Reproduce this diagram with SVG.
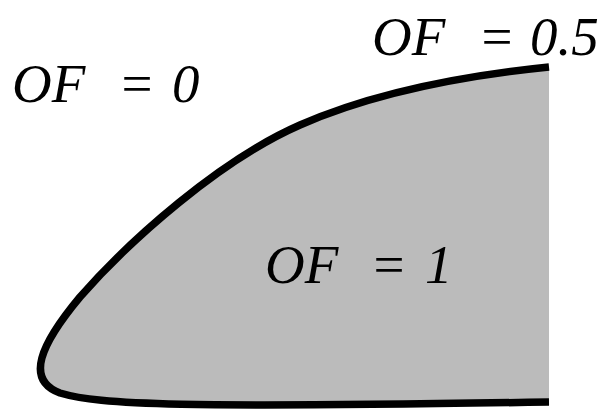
<svg xmlns="http://www.w3.org/2000/svg" width="614" height="411" viewBox="0 0 614 411">
<style>
.edge{fill:none;stroke:#000;stroke-width:7.5;stroke-linecap:butt;stroke-linejoin:round}
.lbl{font-family:'Liberation Serif','DejaVu Serif',serif;font-style:italic;font-size:55px;fill:#000}
</style>
<rect width="614" height="411" fill="#fff"/>
<g id="region">
<path d="M549,67 C470,75 380,90 300,125 C220,160 130,240 80,297 C40,345 25,380 60,393 C100,405 180,408 549,402 Z" fill="#bbbbbb"/>
</g>
<g id="boundary">
<path class="edge" d="M549,67 C470,75 380,90 300,125 C220,160 130,240 80,297 C40,345 25,380 60,393 C100,405 180,408 549,402"/>
</g>
<g id="labels">
<text class="lbl" x="12" y="102">OF<tspan x="118">=</tspan><tspan x="172">0</tspan></text>
<text class="lbl" x="372" y="55">OF<tspan x="478">=</tspan><tspan x="530">0.5</tspan></text>
<text class="lbl" x="265" y="283">OF<tspan x="370">=</tspan><tspan x="425">1</tspan></text>
</g>
</svg>
